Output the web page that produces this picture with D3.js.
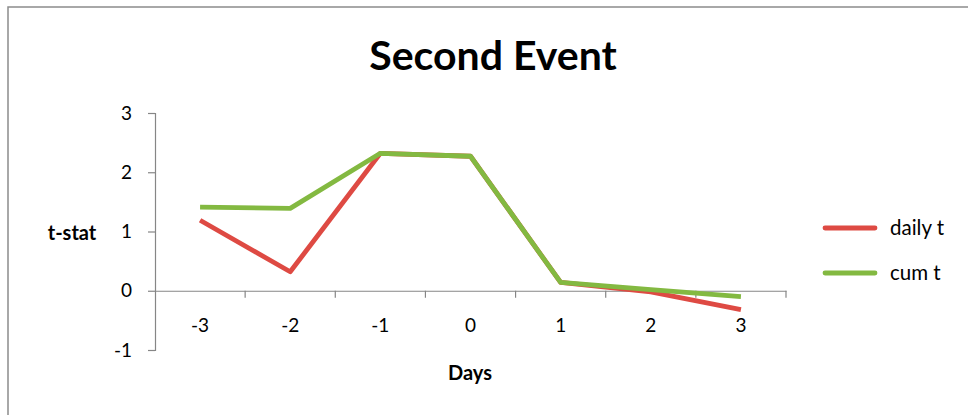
<!DOCTYPE html>
<html><head><meta charset="utf-8">
<script src="https://cdn.jsdelivr.net/npm/d3@7"></script>
<style>body{margin:0;background:#fff;}svg{display:block;}</style>
</head><body>
<svg id="c" width="968" height="415"></svg>
<script>
const days = ["-3","-2","-1","0","1","2","3"];
const dailyT = [1.19, 0.32, 2.32, 2.27, 0.14, -0.02, -0.32];
const cumT = [1.41, 1.39, 2.32, 2.27, 0.14, 0.02, -0.10];
const yTicks = [-1, 0, 1, 2, 3];
const seriesNames = ["daily t", "cum t"];
const seriesColors = ["#DE4A43", "#83B941"];

const svg = d3.select("#c");
const font = "Lato, 'Open Sans', sans-serif";
// outer border
svg.append("rect").attr("x",8).attr("y",7).attr("width",980).attr("height",430)
  .attr("fill","none").attr("stroke","#8c8c8c").attr("stroke-width",1.5);

const x = d3.scaleBand().domain(days).range([155, 786]);
const y = d3.scaleLinear().domain([-1, 3]).range([350, 113]);

const axisColor = "#868686";
// y axis
const ya = svg.append("g").attr("transform","translate(155,0)")
  .call(d3.axisLeft(y).tickValues(yTicks).tickSize(7).tickPadding(16).tickFormat(d=>String(d)));
ya.select(".domain").attr("stroke",axisColor).attr("stroke-width",1.2);
ya.selectAll(".tick line").attr("stroke",axisColor).attr("stroke-width",1.2);
ya.selectAll("text").attr("font-family",font).attr("font-size",19).attr("fill","#000");

// x axis at y=0
const xa = svg.append("g").attr("transform",`translate(0,${y(0)})`)
  .call(d3.axisBottom(x).tickSize(0).tickPadding(28));
xa.select(".domain").attr("stroke",axisColor).attr("stroke-width",1.2);
xa.selectAll("text").attr("font-family",font).attr("font-size",19).attr("fill","#000");
// category boundary ticks
xa.selectAll(".bt").data(days).enter().append("line")
  .attr("x1",d=>x(d)+x.bandwidth()).attr("x2",d=>x(d)+x.bandwidth())
  .attr("y1",0).attr("y2",7).attr("stroke",axisColor).attr("stroke-width",1.2);

const line = d3.line().x((d,i)=>x(days[i])+x.bandwidth()/2).y(d=>y(d));
[dailyT, cumT].forEach((s,k)=>{
  svg.append("path").attr("d",line(s)).attr("fill","none")
    .attr("stroke",seriesColors[k]).attr("stroke-width",4.8)
    .attr("stroke-linejoin","round").attr("stroke-linecap","butt");
});

// title
svg.append("text").attr("x",493).attr("y",70).attr("text-anchor","middle")
  .attr("font-family",font).attr("font-weight","bold").attr("font-size",41).text("Second Event");
// axis titles
svg.append("text").attr("x",72).attr("y",240).attr("text-anchor","middle")
  .attr("font-family",font).attr("font-weight","bold").attr("font-size",20).text("t-stat");
svg.append("text").attr("x",470).attr("y",380).attr("text-anchor","middle")
  .attr("font-family",font).attr("font-weight","bold").attr("font-size",20).text("Days");

// legend
const lg = svg.append("g");
seriesNames.forEach((n,k)=>{
  const yy = 228 + k*45;
  lg.append("line").attr("x1",825).attr("x2",875).attr("y1",yy).attr("y2",yy)
    .attr("stroke",seriesColors[k]).attr("stroke-width",4.8).attr("stroke-linecap","round");
  lg.append("text").attr("x",890).attr("y",yy+7).attr("font-family",font)
    .attr("font-size",20.5).attr("fill","#000").text(n);
});
</script>
</body></html>
